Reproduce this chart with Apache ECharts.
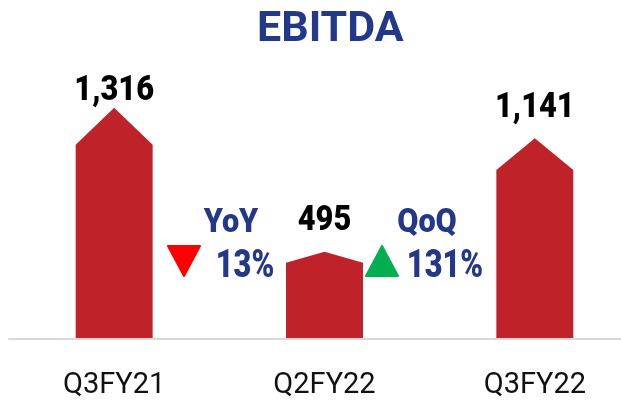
<!DOCTYPE html>
<html>
<head>
<meta charset="utf-8">
<script src="https://cdn.jsdelivr.net/npm/echarts@6/dist/echarts.min.js"></script>
<style>html,body{margin:0;padding:0;background:#fff;}#c{width:621px;height:406px;}</style>
</head>
<body>
<div id="c"></div>
<script>
const categories = ['Q3FY21', 'Q2FY22', 'Q3FY22'];
const ebitda = [1316, 495, 1141];
const changeNames = ['YoY', 'QoQ'];
const changeValues = ['13%', '131%'];
const changeDirs = ['down', 'up'];

const BLUE = '#24388A';
const BAR = '#C0222A';
const FONT = 'Roboto';
const labelGap = [-1, 13, 13];

const chart = echarts.init(document.getElementById('c'), null, {renderer: 'canvas'});

function fmt(v) { return v.toLocaleString('en-US'); }

const graphics = [];
const annX = [[184, 231, 245], [382, 427, 445]];
changeNames.forEach((n, i) => {
  const [tx, nx, vx] = annX[i];
  graphics.push({type: 'text', x: nx, y: 223, style: {text: n, fill: BLUE, font: '900 34px ' + FONT, textAlign: 'center', textVerticalAlign: 'middle'}, scaleX: 0.9});
  graphics.push({type: 'text', x: vx, y: 267, style: {text: changeValues[i], fill: BLUE, font: '900 38px ' + FONT, textAlign: 'center', textVerticalAlign: 'middle'}, scaleX: 0.81});
  const up = changeDirs[i] === 'up';
  const c = up ? '#00B050' : '#FF0000';
  const pts = up ? [[tx - 16, 276], [tx + 16, 276], [tx, 246]] : [[tx - 16, 246], [tx + 16, 246], [tx, 276]];
  graphics.push({type: 'polygon', shape: {points: pts}, style: {fill: c, lineJoin: 'round', stroke: c, lineWidth: 2}});
});

chart.setOption({
  animation: false,
  title: {
    text: 'EBITDA', left: 252, top: 4,
    textStyle: {color: BLUE, fontSize: 43, fontWeight: 'bold', fontFamily: FONT}
  },
  grid: {left: 9, width: 631, top: 75.4, bottom: 67.5, containLabel: false, outerBoundsMode: 'none'},
  xAxis: {
    type: 'category', data: categories,
    axisLine: {show: true, lineStyle: {color: '#d9d9d9', width: 2}},
    axisTick: {show: false},
    axisLabel: {color: '#111', fontSize: 29, fontFamily: FONT, margin: 33}
  },
  yAxis: {type: 'value', min: 0, max: 1500, show: false, splitLine: {show: false}},
  series: [{
    type: 'custom',
    data: ebitda.map((v, i) => [i, v]),
    renderItem: function (params, api) {
      const idx = params.dataIndex;
      const top = api.coord([api.value(0), api.value(1)]);
      const base = api.coord([api.value(0), 0]);
      const bw = api.size([1, 0])[0] * 0.366;
      const cx = top[0];
      const h = base[1] - top[1];
      const peak = Math.max(0.18 * h - 4.5, 0);
      const l = cx - bw / 2, r = cx + bw / 2;
      return {
        type: 'group',
        children: [
          {type: 'polygon', shape: {points: [[l, base[1] - 0.5], [l, top[1] + peak], [cx, top[1]], [r, top[1] + peak], [r, base[1] - 0.5]]}, style: {fill: BAR}},
          {type: 'text', x: cx, y: top[1] - labelGap[idx], scaleX: 0.88, style: {text: fmt(api.value(1)), fill: '#000', font: '900 35px ' + FONT, textAlign: 'center', textVerticalAlign: 'bottom'}}
        ]
      };
    }
  }],
  graphic: graphics
});
</script>
</body>
</html>
